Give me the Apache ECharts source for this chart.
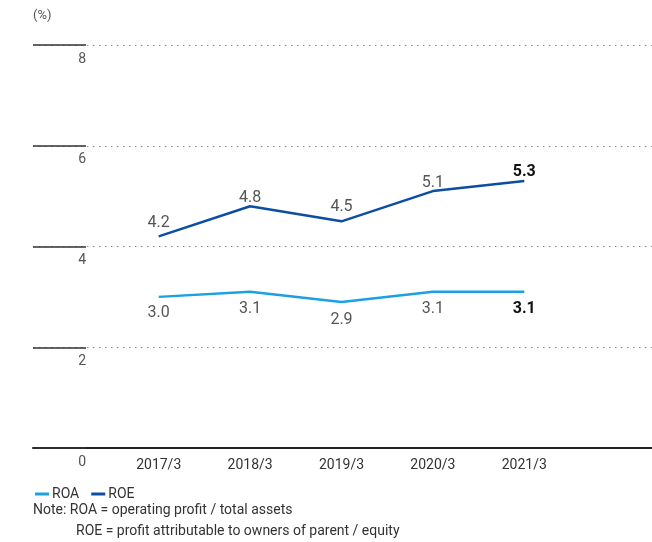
<!DOCTYPE html>
<html>
<head>
<meta charset="utf-8">
<script src="https://cdn.jsdelivr.net/npm/echarts@6/dist/echarts.min.js"></script>
<style>
  html, body { margin: 0; padding: 0; background: #fff; }
  #chart { width: 652px; height: 542px; }
</style>
</head>
<body>
<div id="chart"></div>
<script>
// Fiscal years and return ratios (%)
const categories = ['2017/3', '2018/3', '2019/3', '2020/3', '2021/3'];
const roaValues = [3.0, 3.1, 2.9, 3.1, 3.1];
const roeValues = [4.2, 4.8, 4.5, 5.1, 5.3];
const yTicks = { min: 0, max: 8, interval: 2 };

const FONT = 'Roboto, "Noto Sans", sans-serif';
const ROA_COLOR = '#1ba1e2';
const ROE_COLOR = '#0b4ea2';

// gap between each value label and its point, in px
const roaLabelGap = [8, 9, 10, 9, 9];
const roeLabelGap = [5, 0, 6, 0, 1];

const lastIdx = categories.length - 1;

function labelled(values, position, gaps) {
  return values.map((v, i) => {
    const last = i === lastIdx;
    return {
      value: v,
      label: {
        show: true,
        position: position,
        distance: gaps[i],
        fontFamily: FONT,
        fontSize: 16,
        fontWeight: last ? 'bold' : 'normal',
        color: last ? '#111' : '#555',
        formatter: (p) => p.value.toFixed(1)
      }
    };
  });
}

const chart = echarts.init(document.getElementById('chart'), null, { renderer: 'canvas' });

chart.setOption({
  animation: false,
  textStyle: { fontFamily: FONT },
  grid: [
    // full-width grid carrying the value scale and reference lines
    { left: 33, right: 0, top: 45, bottom: 94 },
    // plotting grid for the fiscal-year categories
    { left: 113, right: 82, top: 45, bottom: 94 }
  ],
  xAxis: [
    {
      gridIndex: 0, type: 'value', min: 0, max: 1,
      axisLine: { show: true, lineStyle: { color: '#222', width: 2 } },
      axisTick: { show: false }, axisLabel: { show: false }, splitLine: { show: false }
    },
    {
      gridIndex: 1, type: 'category', data: categories, boundaryGap: true,
      axisLine: { show: false }, axisTick: { show: false },
      axisLabel: { color: '#333', fontSize: 14, fontFamily: FONT, margin: 10 }
    }
  ],
  yAxis: [
    {
      gridIndex: 0, type: 'value', min: yTicks.min, max: yTicks.max, interval: yTicks.interval,
      axisLine: { show: false },
      axisTick: { show: true, inside: true, length: 53, lineStyle: { color: '#333', width: 1.5 } },
      axisLabel: {
        inside: true, margin: 53, align: 'right', verticalAlign: 'top',
        padding: [7, 0, 0, 0],
        color: '#555', fontSize: 14, fontFamily: FONT
      },
      splitLine: { show: true, lineStyle: { type: [1.5, 4.5], color: '#888', width: 1.2 } }
    },
    {
      gridIndex: 1, type: 'value', min: yTicks.min, max: yTicks.max, interval: yTicks.interval,
      show: false
    }
  ],
  legend: {
    left: 30, top: 482,
    icon: 'rect', itemWidth: 14, itemHeight: 3, itemGap: 12,
    textStyle: { color: '#333', fontSize: 14, fontFamily: FONT, padding: [0, 0, 0, -2] },
    data: ['ROA', 'ROE']
  },
  graphic: [
    { type: 'text', left: 33, top: 9, style: { text: '(%)', fill: '#555', font: '13px ' + FONT } },
    { type: 'text', left: 33, top: 503, style: { text: 'Note: ROA = operating profit / total assets', fill: '#333', font: '14px ' + FONT } },
    { type: 'text', left: 76, top: 524, style: { text: 'ROE = profit attributable to owners of parent / equity', fill: '#333', font: '14px ' + FONT } }
  ],
  series: [
    {
      name: 'ROA', type: 'line', xAxisIndex: 1, yAxisIndex: 1,
      data: labelled(roaValues, 'bottom', roaLabelGap),
      symbol: 'circle', symbolSize: 0, showSymbol: true,
      lineStyle: { color: ROA_COLOR, width: 2.5 }, itemStyle: { color: ROA_COLOR }
    },
    {
      name: 'ROE', type: 'line', xAxisIndex: 1, yAxisIndex: 1,
      data: labelled(roeValues, 'top', roeLabelGap),
      symbol: 'circle', symbolSize: 0, showSymbol: true,
      lineStyle: { color: ROE_COLOR, width: 2.5 }, itemStyle: { color: ROE_COLOR }
    }
  ]
});
</script>
</body>
</html>
